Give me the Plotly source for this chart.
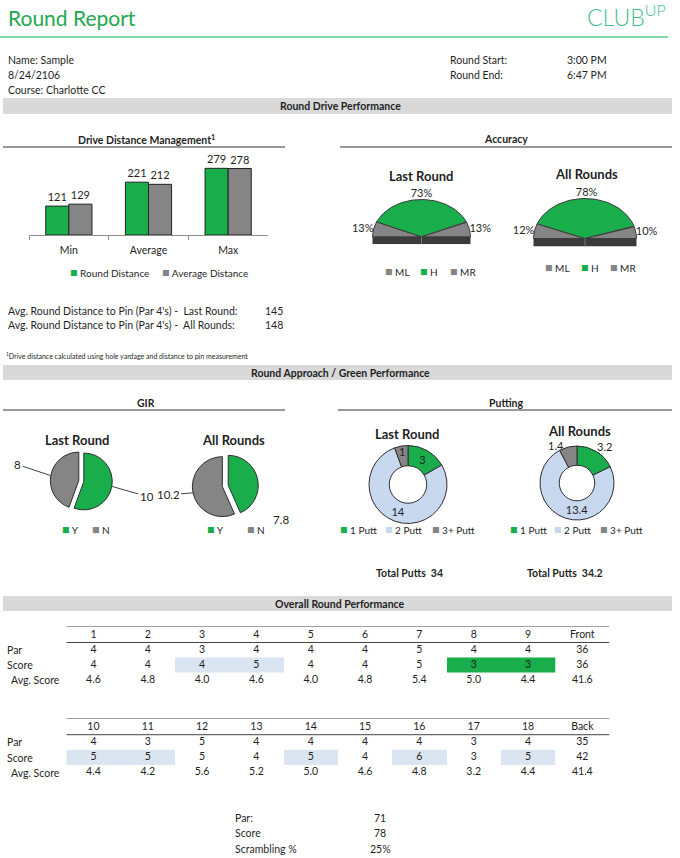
import numpy as np
import plotly.graph_objects as go

W, H = 680, 858


def X(px):
    return px / W


def Y(py):
    return 1 - py / H


FONT = "Lato"
TXT = "#1f1f1f"
GREEN = "#19ad4c"
GRAY = "#858585"
DARK = "#3b3b3b"
EDGE = "#2e2e2e"
LIGHTBLUE = "#c8d8ee"
TABLEBLUE = "#dbe5f1"
BAND = "#d9d9d9"
TITLE_GREEN = "#23a84f"
LOGO_GREEN = "#3fbf8c"

# ---------------- data ----------------
drive_categories = ["Min", "Average", "Max"]
round_distance = [121, 221, 279]
average_distance = [129, 212, 278]

accuracy_labels = ["ML", "H", "MR"]
accuracy_last = [13, 73, 13]
accuracy_all = [12, 78, 10]

pin_distance_last = 145
pin_distance_all = 148

gir_labels = ["Y", "N"]
gir_last = [10, 8]
gir_all = [7.8, 10.2]

putt_labels = ["1 Putt", "2 Putt", "3+ Putt"]
putts_last = [3, 14, 1]
putts_all = [3.2, 13.4, 1.4]
total_putts_last = 34
total_putts_all = 34.2

front_holes = ["1", "2", "3", "4", "5", "6", "7", "8", "9"]
front_par = [4, 4, 3, 4, 4, 4, 5, 4, 4]
front_score = [4, 4, 4, 5, 4, 4, 5, 3, 3]
front_avg = [4.6, 4.8, 4.0, 4.6, 4.0, 4.8, 5.4, 5.0, 4.4]
front_totals = [36, 36, 41.6]

back_holes = ["10", "11", "12", "13", "14", "15", "16", "17", "18"]
back_par = [4, 3, 5, 4, 4, 4, 4, 3, 4]
back_score = [5, 5, 5, 4, 5, 4, 6, 3, 5]
back_avg = [4.4, 4.2, 5.6, 5.2, 5.0, 4.6, 4.8, 3.2, 4.4]
back_totals = [35, 42, 41.4]

summary_labels = ["Par:", "Score", "Scrambling %"]
summary_values = ["71", "78", "25%"]


def fmt(v):
    return str(int(v)) if float(v).is_integer() else str(v)


fig = go.Figure()
shapes = []
annotations = []


def text(px, py, s, size=10.5, bold=False, xanchor="left", color=TXT, weight=None):
    f = dict(family=FONT, size=size, color=color)
    if weight:
        f["weight"] = weight
    annotations.append(dict(x=X(px), y=Y(py), xref="paper", yref="paper",
                            text=f"<b>{s}</b>" if bold else s, showarrow=False,
                            xanchor=xanchor, yanchor="middle", font=f))


def band(y0, y1, label):
    shapes.append(dict(type="rect", xref="paper", yref="paper", x0=X(3), x1=X(672),
                       y0=Y(y1), y1=Y(y0), fillcolor=BAND, line=dict(width=0), layer="below"))
    text(340, (y0 + y1) / 2, label, bold=True, xanchor="center")


def hline(x0, x1, py, color="#333333", width=1):
    shapes.append(dict(type="line", xref="paper", yref="paper", x0=X(x0), x1=X(x1),
                       y0=Y(py), y1=Y(py), line=dict(color=color, width=width)))


def legend_item(px, py, color, label, size=10):
    text(px, py, f'<span style="color:{color};font-size:12.5px">■</span> {label}', size=size)


# ---------------- header ----------------
text(6, 18, "Round Report", size=21, color=TITLE_GREEN)
text(668, 15, "CLUB<sup>UP</sup>", size=23, color=LOGO_GREEN, xanchor="right", weight=300)
hline(0, 668, 37, color="#5cc88a", width=1.5)

text(6, 60, "Name: Sample")
text(6, 75, "8/24/2106")
text(6, 90, "Course: Charlotte CC")
text(448, 60, "Round Start:")
text(448, 75, "Round End:")
text(565, 60, "3:00 PM")
text(565, 75, "6:47 PM")

band(98, 114, "Round Drive Performance")
band(365, 380, "Round Approach / Green Performance")
band(596, 611, "Overall Round Performance")

# section sub-titles
text(146, 139, "Drive Distance Management<sup>1</sup>", bold=True, xanchor="center")
hline(3, 285, 147)
text(506, 139, "Accuracy", bold=True, xanchor="center")
hline(340, 672, 147)
text(146, 403, "GIR", bold=True, xanchor="center")
hline(3, 285, 410)
text(506, 403, "Putting", bold=True, xanchor="center")
hline(338, 672, 410)

# ---------------- drive distance bars ----------------
fig.add_trace(go.Bar(x=drive_categories, y=round_distance, name="Round Distance",
                     marker=dict(color=GREEN, line=dict(color="#222222", width=1)),
                     text=round_distance, textposition="outside", cliponaxis=False,
                     textfont=dict(family=FONT, size=11, color=TXT),
                     xaxis="x", yaxis="y", hoverinfo="skip"))
fig.add_trace(go.Bar(x=drive_categories, y=average_distance, name="Average Distance",
                     marker=dict(color=GRAY, line=dict(color="#222222", width=1)),
                     text=average_distance, textposition="outside", cliponaxis=False,
                     textfont=dict(family=FONT, size=11, color=TXT),
                     xaxis="x", yaxis="y", hoverinfo="skip"))
legend_item(68, 273, GREEN, "Round Distance")
legend_item(160, 273, GRAY, "Average Distance")

text(6, 311, "Avg. Round Distance to Pin (Par 4's) -&nbsp; Last Round:")
text(6, 325, "Avg. Round Distance to Pin (Par 4's) -&nbsp; All Rounds:")
text(263, 311, fmt(pin_distance_last))
text(263, 325, fmt(pin_distance_all))
text(4, 356, "<sup>1</sup>Drive distance calculated using hole yardage and distance to pin measurement", size=7)


# ---------------- accuracy gauges ----------------
def add_gauge(values, xa, ya):
    vals = np.array(values, dtype=float)
    edges = 180 - 180 * np.concatenate([[0], np.cumsum(vals) / vals.sum()])
    colors = [GRAY, GREEN, GRAY]
    for i in range(len(vals)):
        t = np.radians(np.linspace(edges[i], edges[i + 1], 60))
        xs = np.concatenate([[0], np.cos(t), [0]])
        ys = np.concatenate([[0], np.sin(t), [0]])
        fig.add_trace(go.Scatter(x=xs, y=ys, mode="lines", fill="toself", fillcolor=colors[i],
                                 line=dict(color=DARK, width=1), xaxis=xa, yaxis=ya,
                                 hoverinfo="skip", showlegend=False))
    mids = np.radians((edges[:-1] + edges[1:]) / 2)
    pos = ["middle left" if np.cos(m) < -0.5 else "middle right" if np.cos(m) > 0.5 else "top center"
           for m in mids]
    fig.add_trace(go.Scatter(x=np.cos(mids), y=np.sin(mids), mode="text",
                             text=[f"{fmt(v)}%" for v in values], textposition=pos,
                             textfont=dict(family=FONT, size=11, color=TXT), cliponaxis=False,
                             xaxis=xa, yaxis=ya, hoverinfo="skip", showlegend=False))
    axname_x = "x" + xa[1:]
    axname_y = "y" + ya[1:]
    shapes.append(dict(type="rect", xref=axname_x, yref=axname_y, x0=-1, x1=1, y0=-0.2, y1=0,
                       fillcolor=DARK, line=dict(width=0), layer="above"))
    shapes.append(dict(type="line", xref=axname_x, yref=axname_y, x0=0, x1=0, y0=-0.2, y1=0,
                       line=dict(color="#777777", width=1), layer="above"))


def gauge_axes(cx, cy, a, b, xa, ya):
    xd = dict(domain=[X(cx - 1.02 * a), X(cx + 1.02 * a)], range=[-1.02, 1.02], visible=False,
              fixedrange=True, anchor=ya)
    yd = dict(domain=[Y(cy + 0.2 * b), Y(cy - 1.03 * b)], range=[-0.2, 1.03], visible=False,
              fixedrange=True, anchor=xa)
    return xd, yd


add_gauge(accuracy_last, "x2", "y2")
add_gauge(accuracy_all, "x3", "y3")
gx2, gy2 = gauge_axes(421.5, 236.8, 49, 37.3, "x2", "y2")
gx3, gy3 = gauge_axes(585, 238.5, 51.5, 40, "x3", "y3")

text(421.5, 176, "Last Round", size=13, bold=True, xanchor="center")
text(586.5, 174, "All Rounds", size=13, bold=True, xanchor="center")
for px, lab, col in zip([383, 418, 448], accuracy_labels, [GRAY, GREEN, GRAY]):
    legend_item(px, 271, col, lab)
for px, lab, col in zip([543, 579, 608], accuracy_labels, [GRAY, GREEN, GRAY]):
    legend_item(px, 267, col, lab)


# ---------------- GIR pies ----------------
def add_gir(values, cx, cy, half, pull, label_specs):
    fig.add_trace(go.Pie(values=values, labels=gir_labels, sort=False, direction="clockwise",
                         rotation=0, pull=pull, textinfo="none",
                         marker=dict(colors=[GREEN, GRAY], line=dict(color=EDGE, width=1)),
                         domain=dict(x=[X(cx - half), X(cx + half)], y=[Y(cy + half), Y(cy - half)]),
                         showlegend=False, hoverinfo="skip"))
    fr = np.array(values, dtype=float) / sum(values)
    starts = np.concatenate([[0], np.cumsum(fr)[:-1]]) * 360
    mids = np.radians(starts + fr * 180)
    for v, m, (ax, ay, arrow) in zip(values, mids, label_specs):
        tx = cx + half * np.sin(m)
        ty = cy - half * np.cos(m)
        a = dict(x=X(tx), y=Y(ty), xref="paper", yref="paper", text=fmt(v),
                 font=dict(family=FONT, size=11.5, color=TXT))
        if arrow:
            a.update(showarrow=True, ax=ax, ay=ay, arrowhead=0, arrowwidth=1,
                     arrowcolor="#444444", standoff=0)
        else:
            a.update(showarrow=False, xshift=ax, yshift=-ay)
        annotations.append(a)


add_gir(gir_last, 81.3, 481, 31, 0.09, [(35, 10, True), (-33, -11, True)])
add_gir(gir_all, 225.3, 486, 33, 0.1, [(23, 40, False), (-25, 2, True)])
text(77, 440, "Last Round", size=13, bold=True, xanchor="center")
text(233, 440, "All Rounds", size=13, bold=True, xanchor="center")
for px, lab, col in zip([60, 90], gir_labels, [GREEN, GRAY]):
    legend_item(px, 529, col, lab)
for px, lab, col in zip([205, 245], gir_labels, [GREEN, GRAY]):
    legend_item(px, 529, col, lab)


# ---------------- putting donuts ----------------
def add_putts(values, cx, cy, r, inside, outside_offsets):
    labels_in = [fmt(v) if ins else "" for v, ins in zip(values, inside)]
    fig.add_trace(go.Pie(values=values, labels=putt_labels, hole=0.48, sort=False,
                         direction="clockwise", rotation=0, textinfo="text",
                         text=labels_in, textposition="inside", insidetextorientation="horizontal",
                         textfont=dict(family=FONT, size=11, color=TXT),
                         marker=dict(colors=[GREEN, LIGHTBLUE, GRAY], line=dict(color=EDGE, width=1)),
                         domain=dict(x=[X(cx - r), X(cx + r)], y=[Y(cy + r), Y(cy - r)]),
                         showlegend=False, hoverinfo="skip"))
    for v, ins, off in zip(values, inside, outside_offsets):
        if not ins:
            text(cx + off[0], cy + off[1], fmt(v), size=11, xanchor="center")


add_putts(putts_last, 408, 484.5, 39, [True, True, True], [None, None, None])
add_putts(putts_all, 577, 483, 37, [False, True, False], [(27, -37), None, (-21, -38)])
text(407, 434, "Last Round", size=13, bold=True, xanchor="center")
text(579, 430.5, "All Rounds", size=13, bold=True, xanchor="center")
for px, lab, col in zip([338, 383, 430], putt_labels, [GREEN, LIGHTBLUE, GRAY]):
    legend_item(px, 529, col, lab)
for px, lab, col in zip([508, 552, 598], putt_labels, [GREEN, LIGHTBLUE, GRAY]):
    legend_item(px, 529, col, lab)
text(409, 573, f"Total Putts&nbsp; {fmt(total_putts_last)}", bold=True, xanchor="center")
text(565, 573, f"Total Putts&nbsp; {fmt(total_putts_all)}", bold=True, xanchor="center")


# ---------------- score tables ----------------
def add_table(holes, par, score, avg, totals, total_name, xa, ya):
    diff = [s - p for s, p in zip(score, par)]
    fig.add_trace(go.Heatmap(x=list(range(len(holes))), y=[2], z=[diff], zmin=-1, zmax=1,
                             colorscale=[[0, GREEN], [0.333, GREEN], [0.334, "#ffffff"],
                                         [0.666, "#ffffff"], [0.667, TABLEBLUE], [1, TABLEBLUE]],
                             showscale=False, hoverinfo="skip", xaxis=xa, yaxis=ya))
    cols = list(range(len(holes) + 1))
    rows = [
        holes + [total_name],
        [fmt(v) for v in par] + [fmt(totals[0])],
        [fmt(v) for v in score] + [fmt(totals[1])],
        [f"{v:.1f}" for v in avg] + [f"{totals[2]:.1f}"],
    ]
    for ri, row in enumerate(rows):
        fig.add_trace(go.Scatter(x=cols, y=[ri] * len(cols), mode="text", text=row,
                                 textposition="middle center", cliponaxis=False,
                                 textfont=dict(family=FONT, size=10.5, color=TXT),
                                 xaxis=xa, yaxis=ya, hoverinfo="skip", showlegend=False))
    axx = "x" + xa[1:]
    axy = "y" + ya[1:]
    for yv in (-0.6, 0.5):
        shapes.append(dict(type="line", xref=axx, yref=axy, x0=-0.5, x1=len(holes) + 0.5,
                           y0=yv, y1=yv, line=dict(color="#444444", width=1)))
    for ri, lab, px in [(1, "Par", 5), (2, "Score", 5), (3, "Avg. Score", 9)]:
        annotations.append(dict(x=X(px), y=ri, xref="paper", yref=axy, text=lab, showarrow=False,
                                xanchor="left", yanchor="middle",
                                font=dict(family=FONT, size=10.5, color=TXT)))


add_table(front_holes, front_par, front_score, front_avg, front_totals, "Front", "x4", "y4")
add_table(back_holes, back_par, back_score, back_avg, back_totals, "Back", "x5", "y5")

# ---------------- summary ----------------
for py, lab, val in zip([818, 833, 849], summary_labels, summary_values):
    text(233, py, lab)
    text(380, py, val, xanchor="center")

# ---------------- layout ----------------
tx = dict(domain=[X(66.3), X(609.5)], range=[-0.5, 9.5], visible=False, fixedrange=True)
fig.update_layout(
    width=W, height=H, margin=dict(l=0, r=0, t=0, b=0),
    paper_bgcolor="white", plot_bgcolor="white", showlegend=False,
    font=dict(family=FONT, size=10.5, color=TXT),
    bargap=0.42, bargroupgap=0, barmode="group",
    uniformtext=dict(mode="show", minsize=10.5),
    xaxis=dict(domain=[X(29), X(268)], anchor="y", type="category", showline=True,
               linecolor="#8c8c8c", linewidth=1, ticks="outside", tickson="boundaries",
               ticklen=4, tickcolor="#8c8c8c", showgrid=False, zeroline=False,
               ticklabelstandoff=5,
               tickfont=dict(family=FONT, size=10.5, color=TXT), fixedrange=True),
    yaxis=dict(domain=[Y(235), Y(235 - 320 * 0.239)], anchor="x", range=[0, 320],
               visible=False, fixedrange=True),
    xaxis2=gx2, yaxis2=gy2, xaxis3=gx3, yaxis3=gy3,
    xaxis4=dict(tx, anchor="y4"),
    yaxis4=dict(domain=[Y(689), Y(626)], range=[3.6, -0.6], visible=False, fixedrange=True, anchor="x4"),
    xaxis5=dict(tx, anchor="y5"),
    yaxis5=dict(domain=[Y(781.8), Y(718)], range=[3.6, -0.6], visible=False, fixedrange=True, anchor="x5"),
    shapes=shapes, annotations=annotations,
)

fig.write_html("out.html", config={"displayModeBar": False},
               post_script="document.body.style.margin='0px';document.body.style.overflow='hidden';")
